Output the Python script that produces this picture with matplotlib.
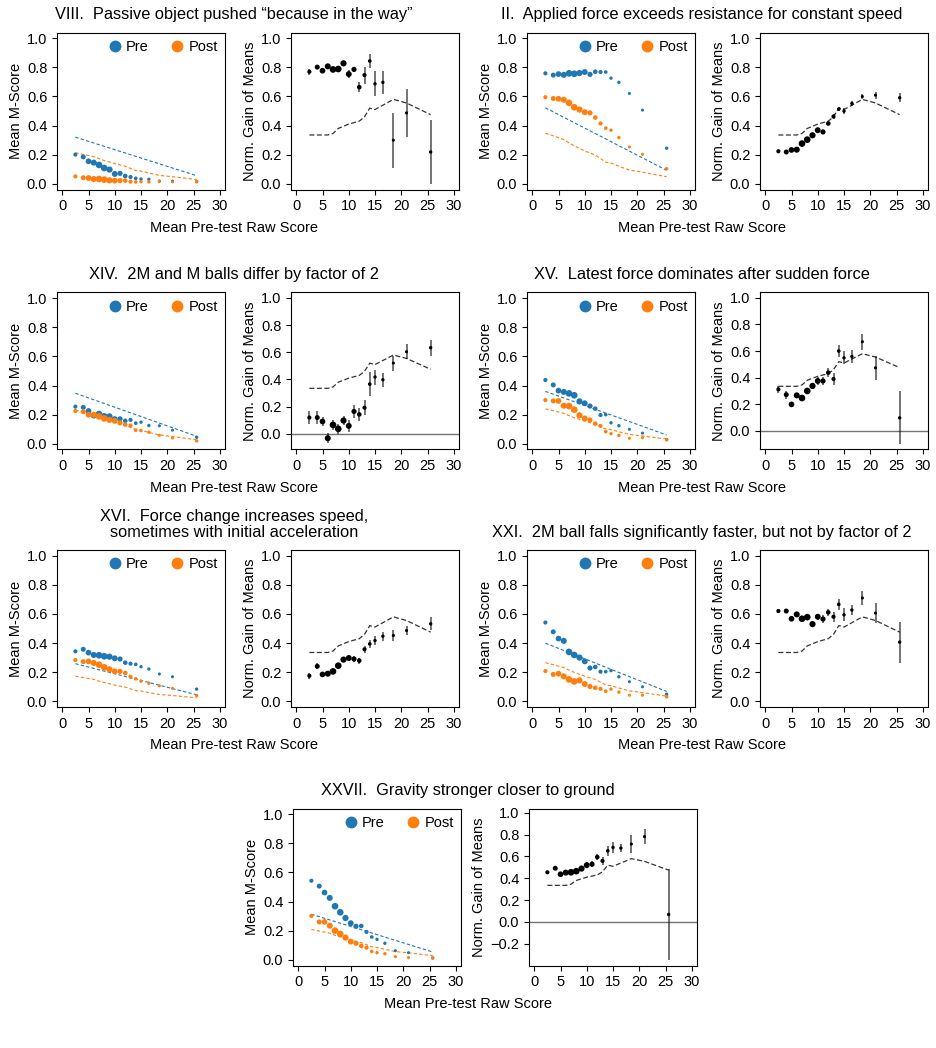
import matplotlib.pyplot as plt
from matplotlib.lines import Line2D

plt.rcParams['font.family'] = ['Liberation Sans', 'DejaVu Sans']

# bins of mean pre-test raw score, shared by every panel
score_bins = [2.5, 4, 5, 6, 7, 8, 9, 10, 11, 12, 13, 14, 15, 16.5, 18.5, 21, 25.6]
bin_sizes = [9, 13, 17, 19, 23, 23, 20, 18, 14, 11, 9, 7, 6, 6, 5, 5, 6]
# reference normalized gain (dashed black line), same in every panel
ref_gain = [0.335, 0.335, 0.335, 0.335, 0.345, 0.38, 0.395, 0.41, 0.42, 0.43,
            0.46, 0.52, 0.51, 0.54, 0.58, 0.555, 0.475]

titles = [
    "VIII.  Passive object pushed \u201cbecause in the way\u201d",
    "II.  Applied force exceeds resistance for constant speed",
    "XIV.  2M and M balls differ by factor of 2",
    "XV.  Latest force dominates after sudden force",
    "XVI.  Force change increases speed,\nsometimes with initial acceleration",
    "XXI.  2M ball falls significantly faster, but not by factor of 2",
    "XXVII.  Gravity stronger closer to ground",
]

# VIII
viii_pre = [0.20, 0.184, 0.154, 0.145, 0.129, 0.108, 0.097, 0.067, 0.071, 0.053, 0.046, 0.037, 0.032, 0.030, 0.018, 0.018, 0.014]
viii_post = [0.05, 0.041, 0.039, 0.032, 0.032, 0.028, 0.023, 0.021, 0.021, 0.021, 0.014, 0.012, 0.014, 0.012, 0.016, 0.012, 0.014]
viii_pre_ref = [0.32, 0.055]
viii_post_ref = [0.213, 0.201, 0.194, 0.186, 0.172, 0.159, 0.149, 0.138, 0.129, 0.120, 0.105, 0.090, 0.087, 0.073, 0.057, 0.048, 0.029]
viii_gain = [0.77, 0.802, 0.777, 0.807, 0.786, 0.789, 0.828, 0.754, 0.786, 0.664, 0.747, 0.844, 0.687, 0.697, 0.299, 0.487, 0.218]
viii_err = [0.02, 0.015, 0.015, 0.015, 0.015, 0.015, 0.015, 0.025, 0.02, 0.035, 0.058, 0.05, 0.085, 0.078, 0.19, 0.167, 0.22]

# II
ii_pre = [0.759, 0.747, 0.754, 0.749, 0.759, 0.756, 0.761, 0.768, 0.752, 0.77, 0.768, 0.768, 0.726, 0.697, 0.621, 0.506, 0.244]
ii_post = [0.595, 0.586, 0.584, 0.577, 0.556, 0.526, 0.51, 0.492, 0.487, 0.455, 0.414, 0.382, 0.368, 0.317, 0.253, 0.202, 0.103]
ii_pre_ref = [0.522, 0.092]
ii_post_ref = [0.347, 0.329, 0.317, 0.304, 0.280, 0.260, 0.243, 0.225, 0.211, 0.197, 0.173, 0.148, 0.142, 0.120, 0.094, 0.079, 0.048]
ii_gain = [0.223, 0.218, 0.232, 0.234, 0.276, 0.303, 0.333, 0.368, 0.356, 0.414, 0.462, 0.513, 0.499, 0.552, 0.60, 0.609, 0.591]
ii_err = [0.01, 0.01, 0.01, 0.01, 0.01, 0.01, 0.01, 0.01, 0.01, 0.012, 0.015, 0.015, 0.02, 0.015, 0.02, 0.025, 0.03]

# XIV
xiv_pre = [0.255, 0.25, 0.225, 0.194, 0.204, 0.188, 0.188, 0.169, 0.171, 0.157, 0.164, 0.141, 0.148, 0.125, 0.123, 0.093, 0.044]
xiv_post = [0.225, 0.22, 0.199, 0.199, 0.188, 0.174, 0.164, 0.157, 0.144, 0.132, 0.125, 0.093, 0.09, 0.079, 0.058, 0.039, 0.019]
xiv_pre_ref = [0.347, 0.051]
xiv_post_ref = [0.231, 0.218, 0.209, 0.201, 0.185, 0.172, 0.160, 0.148, 0.138, 0.128, 0.112, 0.096, 0.092, 0.077, 0.060, 0.049, 0.027]
xiv_gain = [0.12, 0.12, 0.091, -0.032, 0.066, 0.037, 0.098, 0.059, 0.165, 0.143, 0.192, 0.366, 0.418, 0.398, 0.521, 0.604, 0.634]
xiv_err = [0.048, 0.045, 0.035, 0.035, 0.035, 0.035, 0.035, 0.045, 0.045, 0.05, 0.055, 0.088, 0.055, 0.05, 0.055, 0.055, 0.06]

# XV
xv_pre = [0.438, 0.404, 0.365, 0.356, 0.346, 0.333, 0.291, 0.278, 0.259, 0.241, 0.197, 0.20, 0.144, 0.124, 0.099, 0.073, 0.028]
xv_post = [0.30, 0.294, 0.294, 0.261, 0.259, 0.234, 0.195, 0.174, 0.163, 0.138, 0.122, 0.083, 0.069, 0.057, 0.037, 0.041, 0.028]
xv_pre_ref = [0.36, 0.06]
xv_post_ref = [0.239, 0.227, 0.218, 0.209, 0.193, 0.179, 0.167, 0.155, 0.145, 0.135, 0.118, 0.101, 0.097, 0.082, 0.064, 0.053, 0.032]
xv_gain = [0.312, 0.272, 0.199, 0.267, 0.247, 0.30, 0.338, 0.375, 0.375, 0.438, 0.39, 0.60, 0.549, 0.559, 0.67, 0.474, 0.098]
xv_err = [0.025, 0.03, 0.02, 0.02, 0.02, 0.02, 0.02, 0.03, 0.03, 0.035, 0.045, 0.045, 0.05, 0.05, 0.06, 0.09, 0.2]

# XVI
xvi_pre = [0.343, 0.357, 0.334, 0.318, 0.316, 0.309, 0.306, 0.295, 0.29, 0.265, 0.258, 0.253, 0.237, 0.221, 0.187, 0.168, 0.083]
xvi_post = [0.283, 0.272, 0.274, 0.263, 0.251, 0.233, 0.219, 0.205, 0.205, 0.194, 0.168, 0.154, 0.138, 0.124, 0.106, 0.088, 0.039]
xvi_pre_ref = [0.258, 0.044]
xvi_post_ref = [0.172, 0.162, 0.156, 0.150, 0.138, 0.128, 0.120, 0.111, 0.104, 0.097, 0.085, 0.073, 0.070, 0.059, 0.046, 0.039, 0.023]
xvi_gain = [0.175, 0.24, 0.184, 0.189, 0.205, 0.244, 0.286, 0.297, 0.29, 0.279, 0.357, 0.394, 0.417, 0.447, 0.452, 0.486, 0.532]
xvi_err = [0.02, 0.02, 0.015, 0.015, 0.015, 0.015, 0.015, 0.02, 0.02, 0.02, 0.025, 0.03, 0.03, 0.03, 0.035, 0.03, 0.045]

# XXI
xxi_pre = [0.541, 0.477, 0.431, 0.415, 0.339, 0.318, 0.30, 0.274, 0.228, 0.235, 0.203, 0.203, 0.21, 0.168, 0.134, 0.099, 0.048]
xxi_post = [0.207, 0.184, 0.189, 0.171, 0.15, 0.136, 0.143, 0.118, 0.101, 0.092, 0.085, 0.069, 0.083, 0.062, 0.041, 0.041, 0.03]
xxi_pre_ref = [0.399, 0.067]
xxi_post_ref = [0.265, 0.251, 0.241, 0.232, 0.214, 0.198, 0.185, 0.172, 0.161, 0.150, 0.131, 0.112, 0.107, 0.091, 0.071, 0.059, 0.035]
xxi_gain = [0.62, 0.62, 0.567, 0.597, 0.567, 0.578, 0.53, 0.581, 0.565, 0.611, 0.581, 0.666, 0.594, 0.627, 0.71, 0.606, 0.406]
xxi_err = [0.015, 0.015, 0.015, 0.012, 0.012, 0.012, 0.015, 0.02, 0.025, 0.025, 0.035, 0.04, 0.045, 0.035, 0.05, 0.07, 0.14]

# XXVII
xxvii_pre = [0.543, 0.506, 0.462, 0.425, 0.368, 0.326, 0.287, 0.251, 0.23, 0.232, 0.191, 0.156, 0.14, 0.113, 0.062, 0.048, 0.012]
xxvii_post = [0.301, 0.26, 0.26, 0.234, 0.20, 0.177, 0.152, 0.124, 0.113, 0.094, 0.083, 0.057, 0.048, 0.041, 0.021, 0.014, 0.011]
xxvii_pre_ref = [0.313, 0.053]
xxvii_post_ref = [0.208, 0.197, 0.190, 0.182, 0.168, 0.156, 0.145, 0.135, 0.126, 0.117, 0.103, 0.088, 0.084, 0.071, 0.056, 0.047, 0.028]
xxvii_gain = [0.455, 0.492, 0.437, 0.452, 0.455, 0.465, 0.489, 0.52, 0.529, 0.594, 0.56, 0.652, 0.683, 0.677, 0.714, 0.782, 0.068]
xxvii_err = [0.015, 0.015, 0.015, 0.015, 0.015, 0.015, 0.015, 0.025, 0.03, 0.03, 0.035, 0.045, 0.05, 0.04, 0.08, 0.07, 0.42]

BLUE = '#1f77b4'
ORANGE = '#ff7f0e'
W, H = 936, 1048
AX_W, AX_H = 168, 157
YTICKS = [0.0, 0.2, 0.4, 0.6, 0.8, 1.0]

fig = plt.figure(figsize=(W / 100, H / 100), dpi=100)


def rect(left, top):
    return [left / W, 1 - (top + AX_H) / H, AX_W / W, AX_H / H]


def style(ax, yticks):
    ax.set_xlim(-1, 31)
    ax.set_xticks([0, 5, 10, 15, 20, 25, 30])
    ax.set_yticks(yticks)
    ax.set_yticklabels([f"{t:.1f}".replace("-", "\u2212") for t in yticks])
    ax.tick_params(labelsize=10.5, length=3.5, width=0.8)
    for s in ax.spines.values():
        s.set_linewidth(0.8)


def draw_pair(title, xl, xr, top, cx, pre, post, pre_ref, post_ref, gain, err, gain_lim):
    ax1 = fig.add_axes(rect(xl, top))
    ax1.plot([score_bins[0], score_bins[-1]], pre_ref, ls='--', dashes=(3, 2), color=BLUE, lw=0.8)
    ax1.plot(score_bins, post_ref, ls='--', dashes=(3, 2), color=ORANGE, lw=0.8)
    ax1.scatter(score_bins, pre, s=bin_sizes, color=BLUE, zorder=3, linewidths=0)
    ax1.scatter(score_bins, post, s=bin_sizes, color=ORANGE, zorder=3, linewidths=0)
    ax1.set_ylim(-0.04, 1.04)
    ax1.set_ylabel("Mean M-Score", fontsize=10.5, labelpad=3)
    handles = [Line2D([], [], marker='o', ls='', color=BLUE, markersize=7.5),
               Line2D([], [], marker='o', ls='', color=ORANGE, markersize=7.5)]
    ax1.legend(handles, ["Pre", "Post"], loc='upper right', ncol=2, frameon=False,
               fontsize=10.5, handletextpad=0.2, columnspacing=1.3,
               borderaxespad=0.1, handlelength=1.2)
    style(ax1, YTICKS)

    ax2 = fig.add_axes(rect(xr, top))
    if gain_lim[0] < -0.05:
        ax2.axhline(0, color='0.45', lw=1.0, zorder=0)
    ax2.plot(score_bins, ref_gain, ls='--', dashes=(4, 2), color='0.2', lw=0.9)
    ax2.errorbar(score_bins, gain, yerr=err, fmt='none', ecolor='k', alpha=0.55, elinewidth=1.4)
    ax2.scatter(score_bins, gain, s=bin_sizes, color='k', zorder=3, linewidths=0)
    ax2.set_ylim(*gain_lim)
    ax2.set_ylabel("Norm. Gain of Means", fontsize=10.5, labelpad=3)
    gticks = [-0.2] + YTICKS if gain_lim[0] < -0.25 else YTICKS
    style(ax2, gticks)

    fig.text(cx / W, 1 - (top - 10) / H, title, ha='center', va='bottom',
             fontsize=11.8, linespacing=1.05)
    fig.text(cx / W, 1 - (top + AX_H + 38) / H, "Mean Pre-test Raw Score",
             ha='center', va='center', fontsize=10.5)


std = (-0.04, 1.04)
draw_pair(titles[0], 57, 291, 32.5, 234, viii_pre, viii_post, viii_pre_ref, viii_post_ref, viii_gain, viii_err, std)
draw_pair(titles[1], 527, 760, 32.5, 702, ii_pre, ii_post, ii_pre_ref, ii_post_ref, ii_gain, ii_err, std)
draw_pair(titles[2], 57, 291, 292.5, 234, xiv_pre, xiv_post, xiv_pre_ref, xiv_post_ref, xiv_gain, xiv_err, (-0.115, 1.04))
draw_pair(titles[3], 527, 760, 292.5, 702, xv_pre, xv_post, xv_pre_ref, xv_post_ref, xv_gain, xv_err, (-0.14, 1.04))
draw_pair(titles[4], 57, 291, 550, 234, xvi_pre, xvi_post, xvi_pre_ref, xvi_post_ref, xvi_gain, xvi_err, std)
draw_pair(titles[5], 527, 760, 550, 702, xxi_pre, xxi_post, xxi_pre_ref, xxi_post_ref, xxi_gain, xxi_err, std)
draw_pair(titles[6], 293, 529, 808.5, 468, xxvii_pre, xxvii_post, xxvii_pre_ref, xxvii_post_ref, xxvii_gain, xxvii_err, (-0.40, 1.04))

fig.savefig("out.png", dpi=100)
